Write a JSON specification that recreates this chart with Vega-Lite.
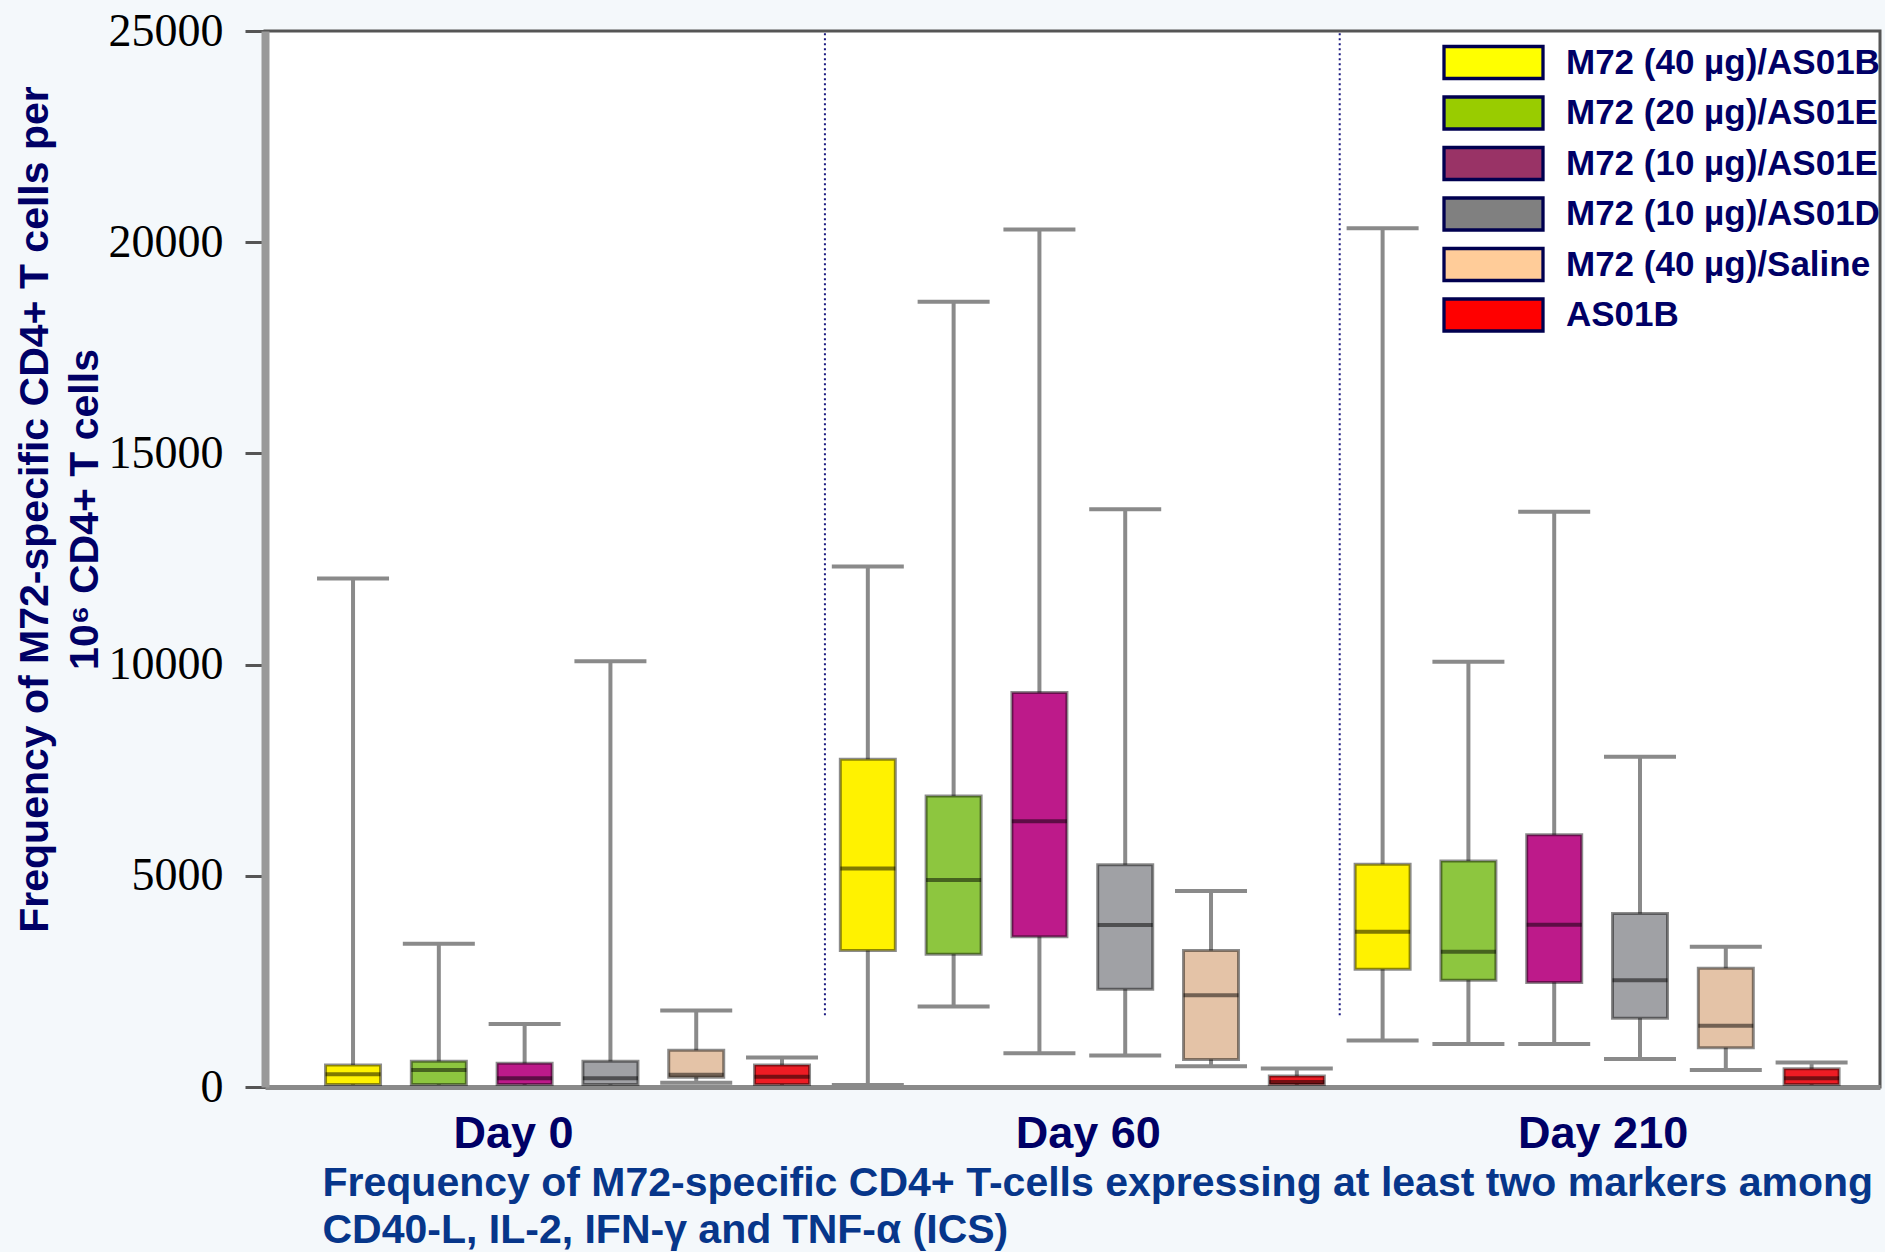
{
  "$schema": "https://vega.github.io/schema/vega-lite/v6.json",
  "width": 1615,
  "height": 1056,
  "autosize": {"type": "none"},
  "padding": {"left": 265, "top": 31, "right": 5, "bottom": 165},
  "background": "#F4F8FB",
  "config": {
    "view": {"stroke": "#555555", "strokeWidth": 3, "fill": "#FFFFFF"},
    "font": "Liberation Sans"
  },
  "datasets": {
    "boxes": [
      {"day": "Day 0", "group": "M72 (40 µg)/AS01B", "min": 0, "q1": 60, "median": 300, "q3": 520, "max": 12040},
      {"day": "Day 0", "group": "M72 (20 µg)/AS01E", "min": 0, "q1": 60, "median": 400, "q3": 610, "max": 3390},
      {"day": "Day 0", "group": "M72 (10 µg)/AS01E", "min": 0, "q1": 60, "median": 210, "q3": 560, "max": 1490},
      {"day": "Day 0", "group": "M72 (10 µg)/AS01D", "min": 0, "q1": 60, "median": 210, "q3": 610, "max": 10080},
      {"day": "Day 0", "group": "M72 (40 µg)/Saline", "min": 100, "q1": 230, "median": 290, "q3": 870, "max": 1810},
      {"day": "Day 0", "group": "AS01B", "min": 0, "q1": 60, "median": 240, "q3": 520, "max": 700},
      {"day": "Day 60", "group": "M72 (40 µg)/AS01B", "min": 50, "q1": 3230, "median": 5170, "q3": 7760, "max": 12320},
      {"day": "Day 60", "group": "M72 (20 µg)/AS01E", "min": 1905, "q1": 3140, "median": 4900, "q3": 6890, "max": 18590},
      {"day": "Day 60", "group": "M72 (10 µg)/AS01E", "min": 800, "q1": 3560, "median": 6290, "q3": 9340, "max": 20300},
      {"day": "Day 60", "group": "M72 (10 µg)/AS01D", "min": 745, "q1": 2315, "median": 3835, "q3": 5260, "max": 13680},
      {"day": "Day 60", "group": "M72 (40 µg)/Saline", "min": 490, "q1": 650, "median": 2175, "q3": 3230, "max": 4640},
      {"day": "Day 60", "group": "AS01B", "min": 0, "q1": 60, "median": 120, "q3": 260, "max": 440},
      {"day": "Day 210", "group": "M72 (40 µg)/AS01B", "min": 1100, "q1": 2790, "median": 3675, "q3": 5275, "max": 20330},
      {"day": "Day 210", "group": "M72 (20 µg)/AS01E", "min": 1020, "q1": 2530, "median": 3200, "q3": 5350, "max": 10065},
      {"day": "Day 210", "group": "M72 (10 µg)/AS01E", "min": 1020, "q1": 2475, "median": 3840, "q3": 5970, "max": 13620},
      {"day": "Day 210", "group": "M72 (10 µg)/AS01D", "min": 660, "q1": 1630, "median": 2530, "q3": 4110, "max": 7820},
      {"day": "Day 210", "group": "M72 (40 µg)/Saline", "min": 400, "q1": 930, "median": 1450, "q3": 2810, "max": 3320},
      {"day": "Day 210", "group": "AS01B", "min": 0, "q1": 60, "median": 210, "q3": 430, "max": 580}
    ],
    "seps": [
      {"day": "Day 60", "lo": 1700, "hi": 25000},
      {"day": "Day 210", "lo": 1700, "hi": 25000}
    ]
  },
  "resolve": {"scale": {"color": "independent"}, "legend": {"color": "independent"}},
  "layer": [
    {
      "data": {"name": "seps"},
      "mark": {"type": "rule", "color": "#1a1a80", "strokeWidth": 2, "strokeDash": [2, 3]},
      "encoding": {
        "x": {"field": "day", "type": "nominal", "bandPosition": 0,
              "scale": {"domain": ["Day 0", "Day 60", "Day 210"], "paddingInner": 0, "paddingOuter": 0.0686, "align": 0.639}},
        "y": {"field": "lo", "type": "quantitative", "scale": {"domain": [0, 25000], "nice": false}},
        "y2": {"field": "hi"}
      }
    },
    {
      "data": {"name": "boxes"},
      "mark": {"type": "rule", "color": "#8a8a8a", "strokeWidth": 4},
      "encoding": {
        "x": {"field": "day", "type": "nominal",
              "scale": {"domain": ["Day 0", "Day 60", "Day 210"], "paddingInner": 0, "paddingOuter": 0.0686, "align": 0.639},
              "axis": {
                "title": ["Frequency of M72-specific CD4+ T-cells expressing at least two markers among", "CD40-L, IL-2, IFN-γ and TNF-α (ICS)"],
                "titleFont": "Liberation Sans", "titleFontWeight": "bold", "titleFontSize": 41, "titleColor": "#07368A",
                "titleAlign": "left", "titleAnchor": "start", "titleX": 57, "titleY": 108, "titleBaseline": "alphabetic", "titleLineHeight": 47,
                "labelFont": "Liberation Sans", "labelFontWeight": "bold", "labelFontSize": 45, "labelColor": "#000066",
                "labelAngle": 0, "labelBaseline": "alphabetic", "labelPadding": 60,
                "labelAlign": {"condition": {"test": "datum.value === 'Day 0'", "value": "right"}, "value": "center"},
                "labelOffset": 6,
                "ticks": false, "tickSize": 0, "domainColor": "#8a8a8a", "domainWidth": 5
              }},
        "xOffset": {"field": "group", "type": "nominal",
                    "scale": {"domain": ["M72 (40 µg)/AS01B", "M72 (20 µg)/AS01E", "M72 (10 µg)/AS01E", "M72 (10 µg)/AS01D", "M72 (40 µg)/Saline", "AS01B"], "paddingInner": 0, "paddingOuter": 0}},
        "y": {"field": "min", "type": "quantitative", "scale": {"domain": [0, 25000], "nice": false},
              "axis": {
                "values": [0, 5000, 10000, 15000, 20000, 25000], "format": "d",
                "title": ["Frequency of M72-specific CD4+ T cells per", "10⁶ CD4+ T cells"],
                "titleFont": "Liberation Sans", "titleFontWeight": "bold", "titleFontSize": 41, "titleColor": "#000066",
                "titleAngle": 270, "titleX": -218, "titleY": 478, "titleAlign": "center", "titleBaseline": "alphabetic", "titleLineHeight": 50,
                "labelFont": "Liberation Serif", "labelFontSize": 46, "labelColor": "#000000", "labelPadding": 22,
                "labelFlush": false, "labelOverlap": false,
                "tickSize": 20, "tickColor": "#555555", "tickWidth": 3,
                "domainColor": "#999999", "domainWidth": 8, "grid": false
              }},
        "y2": {"field": "max"}
      }
    },
    {
      "data": {"name": "boxes"},
      "mark": {"type": "tick", "color": "#8a8a8a", "size": 72, "thickness": 4, "opacity": 1},
      "encoding": {
        "x": {"field": "day", "type": "nominal"},
        "xOffset": {"field": "group", "type": "nominal"},
        "y": {"field": "max", "type": "quantitative"}
      }
    },
    {
      "data": {"name": "boxes"},
      "mark": {"type": "tick", "color": "#8a8a8a", "size": 72, "thickness": 4, "opacity": 1},
      "encoding": {
        "x": {"field": "day", "type": "nominal"},
        "xOffset": {"field": "group", "type": "nominal"},
        "y": {"field": "min", "type": "quantitative"}
      }
    },
    {
      "data": {"name": "boxes"},
      "mark": {"type": "bar", "size": 55, "stroke": "#000000", "strokeOpacity": 0.45, "strokeWidth": 3},
      "encoding": {
        "x": {"field": "day", "type": "nominal"},
        "xOffset": {"field": "group", "type": "nominal"},
        "y": {"field": "q1", "type": "quantitative"},
        "y2": {"field": "q3"},
        "color": {"field": "group", "type": "nominal", "legend": null,
                  "scale": {"domain": ["M72 (40 µg)/AS01B", "M72 (20 µg)/AS01E", "M72 (10 µg)/AS01E", "M72 (10 µg)/AS01D", "M72 (40 µg)/Saline", "AS01B"],
                            "range": ["#FFF200", "#8DC63F", "#BD1A8A", "#A0A1A5", "#E4C3A7", "#ED1C24"]}}
      }
    },
    {
      "data": {"name": "boxes"},
      "mark": {"type": "tick", "color": "#000000", "opacity": 0.5, "size": 55, "thickness": 4},
      "encoding": {
        "x": {"field": "day", "type": "nominal"},
        "xOffset": {"field": "group", "type": "nominal"},
        "y": {"field": "median", "type": "quantitative"}
      }
    },
    {
      "data": {"name": "boxes"},
      "mark": {"type": "bar", "strokeWidth": 0},
      "encoding": {
        "y": {"field": "q1", "type": "quantitative"},
        "y2": {"field": "q1"},
        "color": {"field": "group", "type": "nominal",
                  "scale": {"domain": ["M72 (40 µg)/AS01B", "M72 (20 µg)/AS01E", "M72 (10 µg)/AS01E", "M72 (10 µg)/AS01D", "M72 (40 µg)/Saline", "AS01B"],
                            "range": ["#FFFF00", "#99CC00", "#993366", "#808080", "#FFCC99", "#FF0000"]},
                  "legend": {
                    "orient": "none", "legendX": 1210, "legendY": 13, "title": null, "padding": 0,
                    "symbolType": "M-3,-0.97H3V0.97H-3Z", "symbolSize": 1089,
                    "symbolStrokeColor": "#000050", "symbolStrokeWidth": 3.3, "symbolOpacity": 1,
                    "labelFont": "Liberation Sans", "labelFontWeight": "bold", "labelFontSize": 35, "labelColor": "#000066",
                    "labelOffset": 54, "labelLimit": 0, "rowPadding": 3.5
                  }}
      }
    }
  ]
}
